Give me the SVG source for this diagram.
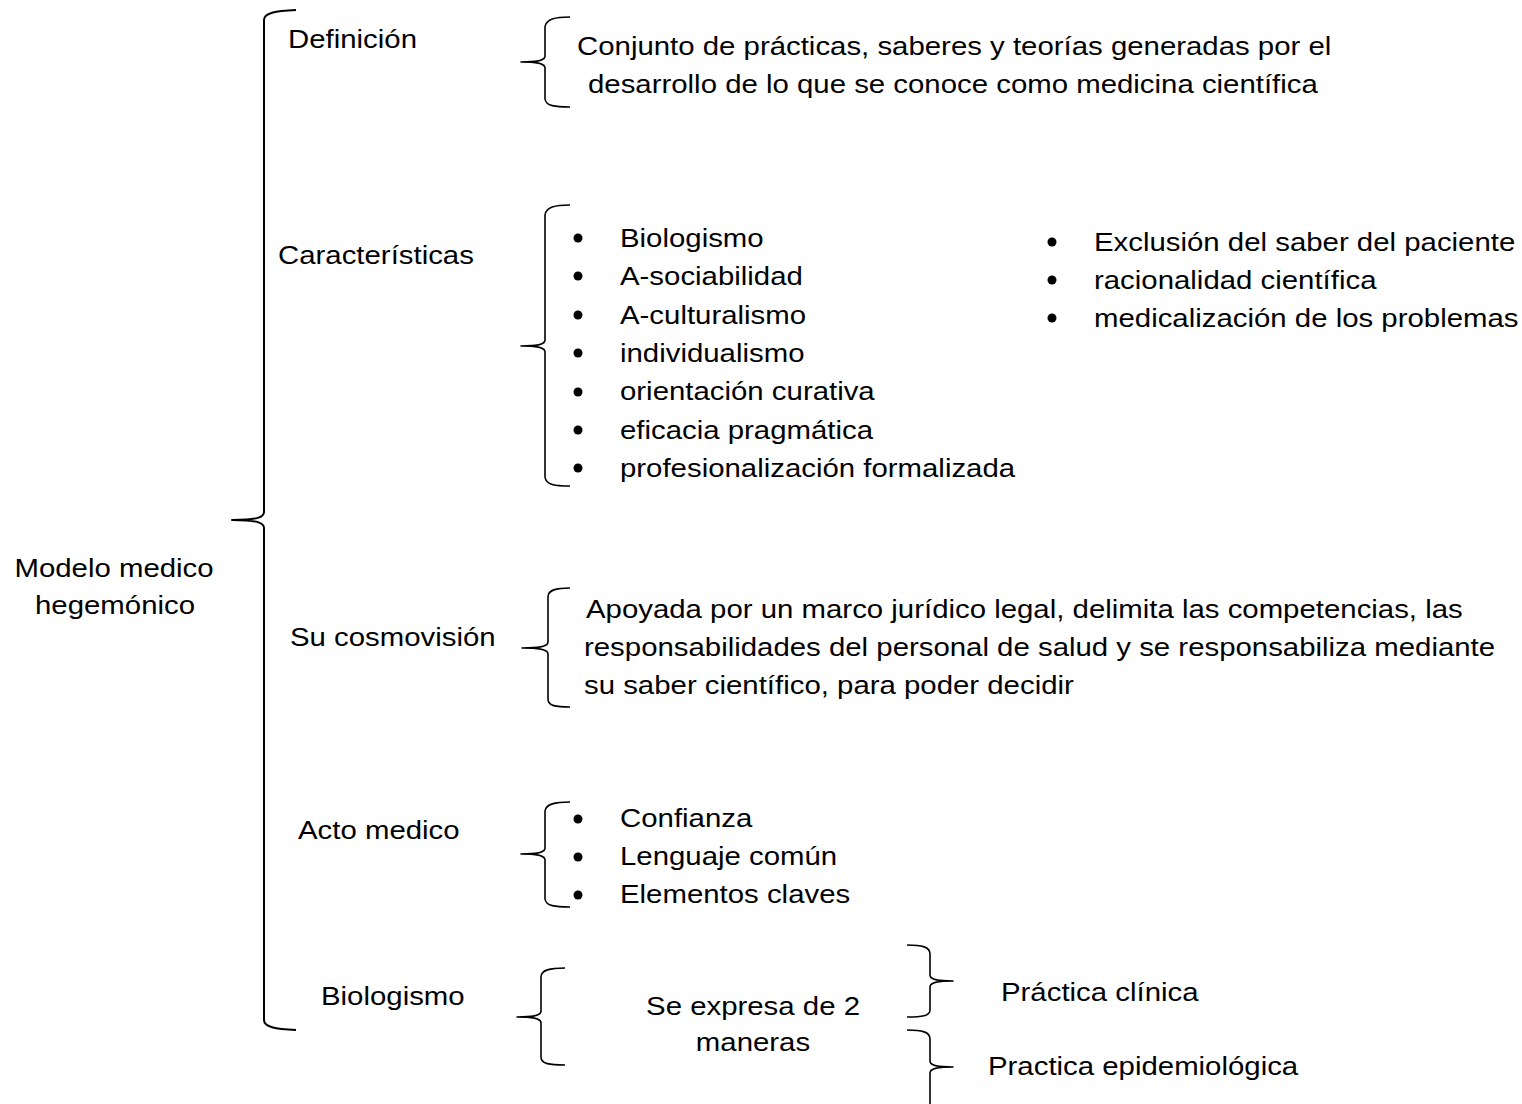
<svg xmlns="http://www.w3.org/2000/svg" width="1522" height="1104" viewBox="0 0 1522 1104">
<style>
  text { font-family: "Liberation Sans", Arial, sans-serif; font-size: 26px; fill: #000; }
  .brace { fill: none; stroke: #000; stroke-width: 1.6; stroke-linejoin: round; }
  .main { stroke-width: 2; }
  .dot { fill: #000; }
</style>
<rect width="1522" height="1104" fill="#fff"/>
<g id="connectors">
  <path class="brace main" d="M296 10 C275 11 264 13 264 20 L264 512 C264 517 258 520 232 520 C258 520 264 523 264 528 L264 1020 C264 1027 275 1029 296 1030"/>
  <path class="brace" d="M570 17 C555 17 546 19 545 27 L545 56 C545 60 540 62 521 62 C540 62 545 64 545 68 L545 99 C546 106 555 107 570 107"/>
  <path class="brace" d="M570 205 C555 205 546 207 545 215 L545 340 C545 344 540 346 521 346 C540 346 545 348 545 352 L545 477 C546 485 555 486 570 486"/>
  <path class="brace" d="M570 588 C556 588 548 590 548 597 L548 642 C548 646 542 648 522 648 C542 648 548 650 548 654 L548 699 C548 706 556 707 570 707"/>
  <path class="brace" d="M570 802 C555 802 546 804 545 811 L545 848 C545 852 540 854 521 854 C540 854 545 856 545 860 L545 899 C546 906 555 907 570 907"/>
  <path class="brace" d="M565 968 C550 968 541 970 541 977 L541 1011 C541 1015 536 1017 517 1017 C536 1017 541 1019 541 1023 L541 1057 C541 1064 550 1065 565 1065"/>
  <path class="brace" d="M907 945 C922 945 930 947 930 954 L930 975 C930 979 935 981 953 981 C935 981 930 983 930 987 L930 1010 C930 1016 922 1017 907 1017"/>
  <path class="brace" d="M907 1030 C922 1030 930 1032 930 1039 L930 1061 C930 1065 935 1067 953 1067 C935 1067 930 1069 930 1073 L930 1104"/>
</g>
<g id="root">
  <text transform="matrix(1.13 0 0 1 114 577)" text-anchor="middle">Modelo medico</text>
  <text transform="matrix(1.13 0 0 1 115 614)" text-anchor="middle">hegemónico</text>
</g>
<g id="definicion">
  <text transform="matrix(1.13 0 0 1 288 48)">Definición</text>
</g>
<g id="definicion-texto">
  <text transform="matrix(1.13 0 0 1 577 55)">Conjunto de prácticas, saberes y teorías generadas por el</text>
  <text transform="matrix(1.13 0 0 1 588 93)">desarrollo de lo que se conoce como medicina científica</text>
</g>
<g id="caracteristicas">
  <text transform="matrix(1.13 0 0 1 278 264)">Características</text>
</g>
<g id="caracteristicas-lista">
  <circle class="dot" cx="578" cy="238" r="4.5"/>
  <circle class="dot" cx="578" cy="276" r="4.5"/>
  <circle class="dot" cx="578" cy="315" r="4.5"/>
  <circle class="dot" cx="578" cy="353" r="4.5"/>
  <circle class="dot" cx="578" cy="392" r="4.5"/>
  <circle class="dot" cx="578" cy="430" r="4.5"/>
  <circle class="dot" cx="578" cy="468" r="4.5"/>
  <text transform="matrix(1.13 0 0 1 620 247)">Biologismo</text>
  <text transform="matrix(1.13 0 0 1 620 285)">A-sociabilidad</text>
  <text transform="matrix(1.13 0 0 1 620 324)">A-culturalismo</text>
  <text transform="matrix(1.13 0 0 1 620 362)">individualismo</text>
  <text transform="matrix(1.13 0 0 1 620 400)">orientación curativa</text>
  <text transform="matrix(1.13 0 0 1 620 439)">eficacia pragmática</text>
  <text transform="matrix(1.13 0 0 1 620 477)">profesionalización formalizada</text>
  <circle class="dot" cx="1052" cy="242" r="4.5"/>
  <circle class="dot" cx="1052" cy="280" r="4.5"/>
  <circle class="dot" cx="1052" cy="318" r="4.5"/>
  <text transform="matrix(1.13 0 0 1 1094 251)">Exclusión del saber del paciente</text>
  <text transform="matrix(1.13 0 0 1 1094 289)">racionalidad científica</text>
  <text transform="matrix(1.13 0 0 1 1094 327)">medicalización de los problemas</text>
</g>
<g id="cosmovision">
  <text transform="matrix(1.13 0 0 1 290 646)">Su cosmovisión</text>
</g>
<g id="cosmovision-texto">
  <text transform="matrix(1.13 0 0 1 586 618)">Apoyada por un marco jurídico legal, delimita las competencias, las</text>
  <text transform="matrix(1.13 0 0 1 584 656)">responsabilidades del personal de salud y se responsabiliza mediante</text>
  <text transform="matrix(1.13 0 0 1 584 694)">su saber científico, para poder decidir</text>
</g>
<g id="acto-medico">
  <text transform="matrix(1.13 0 0 1 298 839)">Acto medico</text>
</g>
<g id="acto-medico-lista">
  <circle class="dot" cx="578" cy="819" r="4.5"/>
  <circle class="dot" cx="578" cy="857" r="4.5"/>
  <circle class="dot" cx="578" cy="895" r="4.5"/>
  <text transform="matrix(1.13 0 0 1 620 827)">Confianza</text>
  <text transform="matrix(1.13 0 0 1 620 865)">Lenguaje común</text>
  <text transform="matrix(1.13 0 0 1 620 903)">Elementos claves</text>
</g>
<g id="biologismo">
  <text transform="matrix(1.13 0 0 1 321 1005)">Biologismo</text>
</g>
<g id="se-expresa">
  <text transform="matrix(1.13 0 0 1 753 1015)" text-anchor="middle">Se expresa de 2</text>
  <text transform="matrix(1.13 0 0 1 753 1051)" text-anchor="middle">maneras</text>
</g>
<g id="practica-clinica">
  <text transform="matrix(1.13 0 0 1 1001 1001)">Práctica clínica</text>
</g>
<g id="practica-epidemiologica">
  <text transform="matrix(1.13 0 0 1 988 1075)">Practica epidemiológica</text>
</g>
</svg>
